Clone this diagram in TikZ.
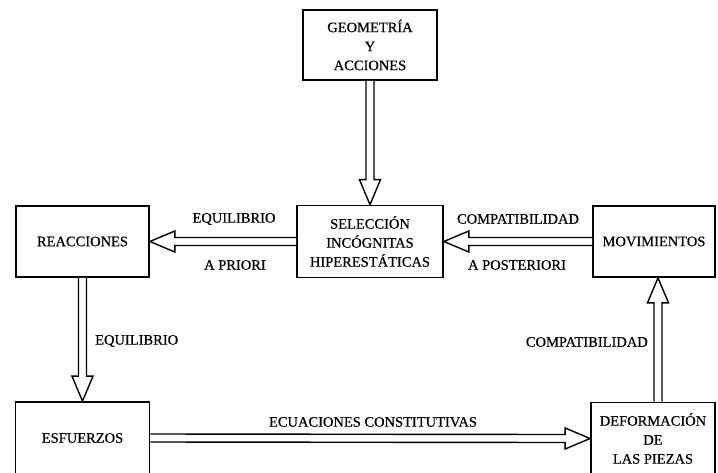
\documentclass[tikz,border=0pt]{standalone}
\usepackage{fontspec}
\setmainfont{Liberation Serif}
\newfontfamily\diagfont[FakeBold=0.5]{Liberation Serif}
\usetikzlibrary{calc}
\begin{document}
\begin{tikzpicture}[x=1pt,y=-1pt,
  box/.style={draw, line width=1.7pt, inner sep=0pt, align=center,
    font=\diagfont\fontsize{14.5}{19}\selectfont},
  lbl/.style={inner sep=0pt, font=\diagfont\fontsize{14.5}{19}\selectfont},
  arrowline/.style={draw, line width=1.4pt, line join=miter, fill=white}]
\useasboundingbox (0,0) rectangle (718,472);
% boxes
\node[box, minimum width=134pt, minimum height=70pt] (geo) at (370,45) {GEOMETRÍA\\Y\\ACCIONES};
\node[box, minimum width=146pt, minimum height=72pt] (sel) at (370,241.5) {SELECCIÓN\\INCÓGNITAS\\HIPERESTÁTICAS};
\node[box, minimum width=133pt, minimum height=71pt] (reac) at (82.5,241.5) {REACCIONES};
\node[box, minimum width=122pt, minimum height=71pt] (mov) at (654,241.5) {MOVIMIENTOS};
\node[box, minimum width=134pt, minimum height=72pt] (esf) at (82.5,438) {ESFUERZOS};
\node[box, minimum width=124pt, minimum height=72pt] (def) at (653,438.5) {DEFORMACIÓN\\DE\\LAS PIEZAS};
% arrows
% geo -> sel (down)
\draw[arrowline] ($(geo.south)+(-4,0)$) -- ($(sel.north)+(-4,-25)$) -- ($(sel.north)+(-10.5,-25)$) -- (sel.north)
  -- ($(sel.north)+(10.5,-25)$) -- ($(sel.north)+(4,-25)$) -- ($(geo.south)+(4,0)$);
% sel -> reac (left)
\draw[arrowline] ($(sel.west)+(0,-4)$) -- ($(reac.east)+(25,-4)$) -- ($(reac.east)+(25,-10.5)$) -- (reac.east)
  -- ($(reac.east)+(25,10.5)$) -- ($(reac.east)+(25,4)$) -- ($(sel.west)+(0,4)$);
% mov -> sel (left)
\draw[arrowline] ($(mov.west)+(0,-4)$) -- ($(sel.east)+(25,-4)$) -- ($(sel.east)+(25,-10.5)$) -- (sel.east)
  -- ($(sel.east)+(25,10.5)$) -- ($(sel.east)+(25,4)$) -- ($(mov.west)+(0,4)$);
% reac -> esf (down)
\draw[arrowline] ($(reac.south)+(-4,0)$) -- ($(esf.north)+(-4,-25)$) -- ($(esf.north)+(-10.5,-25)$) -- (esf.north)
  -- ($(esf.north)+(10.5,-25)$) -- ($(esf.north)+(4,-25)$) -- ($(reac.south)+(4,0)$);
% esf -> def (right)
\draw[arrowline] ($(esf.east)+(0,-4)$) -- ($(def.west)+(-25,-4)$) -- ($(def.west)+(-25,-10.5)$) -- (def.west)
  -- ($(def.west)+(-25,10.5)$) -- ($(def.west)+(-25,4)$) -- ($(esf.east)+(0,4)$);
% def -> mov (up)
\draw[arrowline] ($(def.north)+(1,0)$) -- ($(mov.south)+(0,25)$) -- ($(mov.south)+(-6.5,25)$) -- ($(mov.south)+(4,0)$)
  -- ($(mov.south)+(14.5,25)$) -- ($(mov.south)+(8,25)$) -- ($(def.north)+(9,0)$);
% labels
\node[lbl] (l1) at (234,219) {EQUILIBRIO};
\node[lbl] (l2) at (235,265) {A PRIORI};
\node[lbl] (l3) at (518,219) {COMPATIBILIDAD};
\node[lbl] (l4) at (517,265) {A POSTERIORI};
\node[lbl, anchor=west] (l5) at (95,341) {EQUILIBRIO};
\node[lbl, anchor=east] (l6) at (648,342) {COMPATIBILIDAD};
\node[lbl] (l7) at (373,422) {ECUACIONES CONSTITUTIVAS};
\end{tikzpicture}
\end{document}
